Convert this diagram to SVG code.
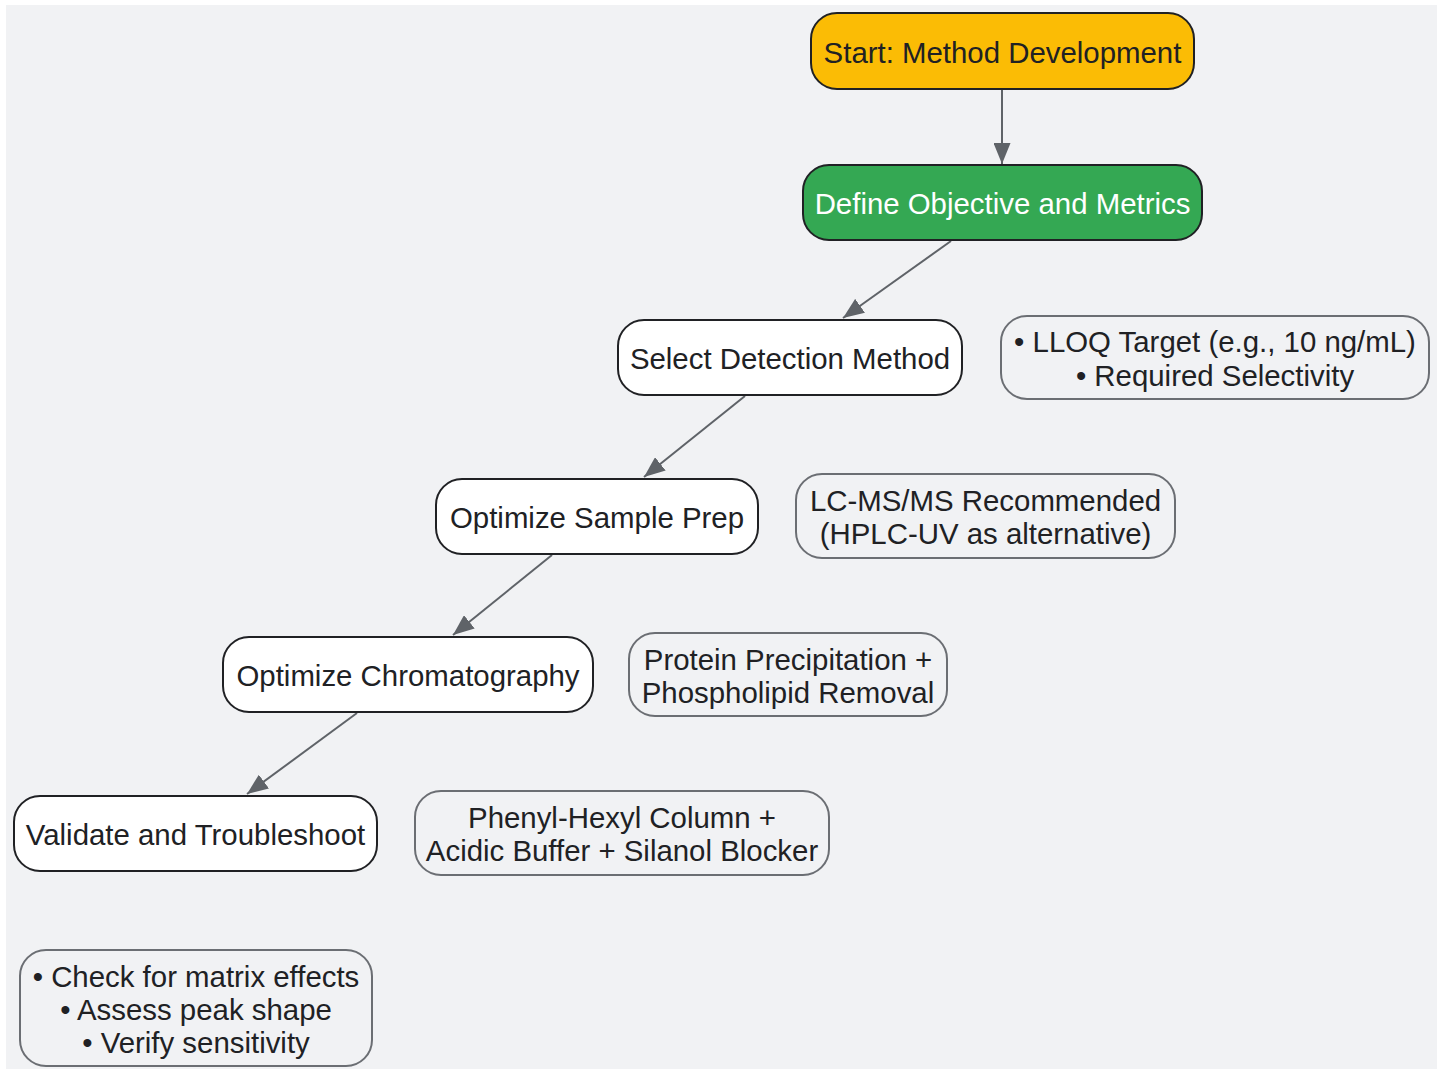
<svg xmlns="http://www.w3.org/2000/svg" width="1443" height="1069" viewBox="0 0 1443 1069">
<style>
.node rect{stroke:#202124;stroke-width:2}
.note rect{fill:none;stroke:#6b6e73;stroke-width:2}
text{font-family:"Liberation Sans",Arial,sans-serif;font-size:29.4px;fill:#202124;text-anchor:middle}
.edges line{stroke:#5f6368;stroke-width:2;fill:none}
</style>
<defs>
<marker id="arr" viewBox="0 0 21 17" refX="21" refY="8.5" markerWidth="21" markerHeight="17" markerUnits="userSpaceOnUse" orient="auto">
<path d="M0,0 L21,8.5 L0,17 Z" fill="#5f6368"/>
</marker>
</defs>
<rect x="6" y="5" width="1431" height="1064" fill="#f1f2f4"/>
<g class="edges">
<line x1="1002" y1="90" x2="1002" y2="164" marker-end="url(#arr)"/>
<line x1="951" y1="241" x2="843" y2="318" marker-end="url(#arr)"/>
<line x1="745" y1="396" x2="644" y2="477" marker-end="url(#arr)"/>
<line x1="552" y1="555" x2="453" y2="635" marker-end="url(#arr)"/>
<line x1="357" y1="713" x2="247" y2="794" marker-end="url(#arr)"/>
</g>
<g id="start" class="node"><rect x="811" y="13" width="383" height="76" rx="26" fill="#fbbc05"/><text x="1002.5" y="63">Start: Method Development</text></g>
<g id="define" class="node"><rect x="803" y="165" width="399" height="75" rx="26" fill="#34a853"/><text x="1002.5" y="214" style="fill:#ffffff">Define Objective and Metrics</text></g>
<g id="select" class="node"><rect x="618" y="320" width="344" height="75" rx="26" fill="#ffffff"/><text x="790" y="369">Select Detection Method</text></g>
<g id="sample" class="node"><rect x="436" y="479" width="322" height="75" rx="26" fill="#ffffff"/><text x="597" y="528">Optimize Sample Prep</text></g>
<g id="chrom" class="node"><rect x="223" y="637" width="370" height="75" rx="26" fill="#ffffff"/><text x="408" y="686">Optimize Chromatography</text></g>
<g id="validate" class="node"><rect x="14" y="796" width="363" height="75" rx="26" fill="#ffffff"/><text x="195.5" y="845">Validate and Troubleshoot</text></g>
<g id="note-lloq" class="note"><rect x="1001" y="316" width="428" height="83" rx="26"/><text x="1215" y="352">• LLOQ Target (e.g., 10 ng/mL)</text><text x="1215" y="386">• Required Selectivity</text></g>
<g id="note-lcms" class="note"><rect x="796" y="474" width="379" height="84" rx="26"/><text x="985.5" y="511">LC-MS/MS Recommended</text><text x="985.5" y="544">(HPLC-UV as alternative)</text></g>
<g id="note-protein" class="note"><rect x="629" y="633" width="318" height="83" rx="26"/><text x="788" y="670">Protein Precipitation +</text><text x="788" y="703">Phospholipid Removal</text></g>
<g id="note-phenyl" class="note"><rect x="415" y="791" width="414" height="84" rx="26"/><text x="622" y="828">Phenyl-Hexyl Column +</text><text x="622" y="861">Acidic Buffer + Silanol Blocker</text></g>
<g id="note-check" class="note"><rect x="20" y="950" width="352" height="116" rx="26"/><text x="196" y="987">• Check for matrix effects</text><text x="196" y="1020">• Assess peak shape</text><text x="196" y="1053">• Verify sensitivity</text></g>
</svg>
